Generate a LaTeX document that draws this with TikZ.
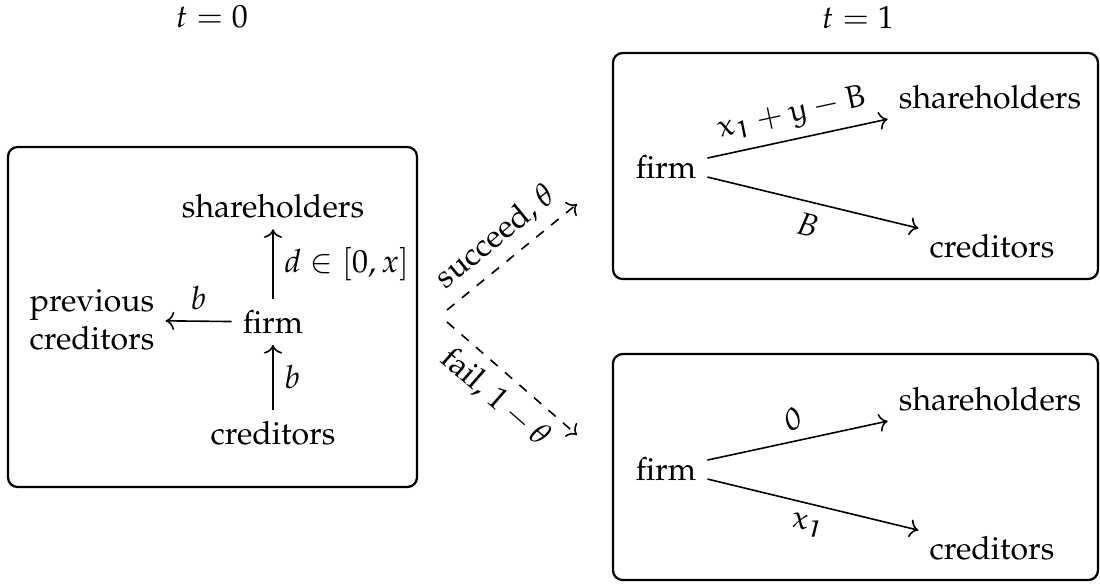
\documentclass[tikz,border=0pt]{standalone}
\usepackage[T1]{fontenc}
\usepackage{mathpazo}
\usetikzlibrary{arrows.meta}
\DeclareMathAlphabet{\matheur}{U}{eur}{m}{n}
\begin{document}
\begin{tikzpicture}[x=0.3125pt,y=-0.3125pt,
  box/.style={draw, rounded corners=3pt, line width=0.7pt},
  flow/.style={->, line width=0.5pt},
  dflow/.style={->, dashed, line width=0.5pt}]
\useasboundingbox (0,0) rectangle (1100,583);
% time labels
\node (t0) at (212,17) {$t=0$};
\node (t1) at (858,17) {$t=1$};
% left box
\draw[box] (8,147) rectangle (417,487);
\node (sh0) at (273,206) {shareholders};
\node (f0) at (273,322) {firm};
\node (cr0) at (273,433) {creditors};
\node[align=center] (pc0) at (92,320) {previous\\creditors};
\draw[flow] (f0) -- (sh0) node[midway,right] {$d\in[0,x]$};
\draw[flow] (f0) -- (pc0) node[midway,above] {$b$};
\draw[flow] (cr0) -- (f0) node[midway,right] {$b$};
% branches
\coordinate (s0) at (447,310);
\coordinate (s1) at (577,204);
\coordinate (g0) at (447,322);
\coordinate (g1) at (577,435);
\draw[dflow] (s0) -- (s1) node[midway,above,sloped] {succeed, $\theta$};
\draw[dflow] (g0) -- (g1) node[midway,below,sloped] {fail, $1-\theta$};
% top right box
\draw[box] (613,53) rectangle (1098,279);
\node (f1) at (666,167) {firm};
\node (sh1) at (990,97) {shareholders};
\node (cr1) at (992,246) {creditors};
\draw[flow] (f1) -- (sh1) node[midway,above,sloped] {$\matheur{x}_{\matheur{1}}+\matheur{y}-\matheur{B}$};
\draw[flow] (f1) -- (cr1) node[midway,below,sloped] {$B$};
% bottom right box
\draw[box] (613,354) rectangle (1098,580);
\node (f2) at (666,469) {firm};
\node (sh2) at (990,399) {shareholders};
\node (cr2) at (992,548) {creditors};
\draw[flow] (f2) -- (sh2) node[midway,above,sloped] {$\matheur{0}$};
\draw[flow] (f2) -- (cr2) node[midway,below,sloped] {$\matheur{x}_{\matheur{1}}$};
\end{tikzpicture}
\end{document}
